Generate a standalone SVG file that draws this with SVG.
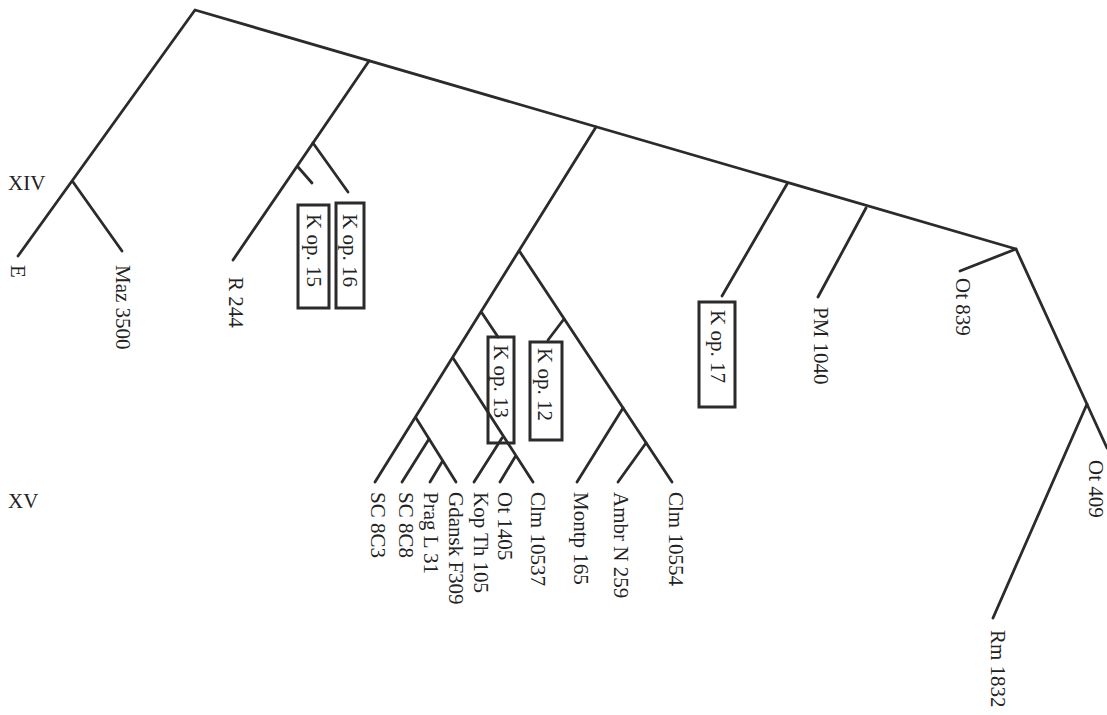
<svg xmlns="http://www.w3.org/2000/svg" width="1107" height="715" viewBox="0 0 1107 715">
<style>
.e{stroke:#2b2b2b;stroke-width:2.8;fill:none;stroke-linecap:round;stroke-linejoin:round}
.b{stroke:#2b2b2b;stroke-width:3;fill:none}
.t{font-family:"Liberation Serif","Times New Roman",serif;font-size:21px;fill:#222}
</style>
<rect width="1107" height="715" fill="#fff"/>
<g id="connectors" class="e">
<polyline points="18,256 195,10 1016,249 1107,448"/>
<line x1="73" y1="182" x2="122" y2="251"/>
<line x1="369" y1="61" x2="233" y2="260"/>
<line x1="313" y1="143" x2="348" y2="192"/>
<line x1="298" y1="167" x2="312" y2="183"/>
<line x1="596" y1="127" x2="375" y2="482"/>
<line x1="520" y1="252" x2="672" y2="482"/>
<line x1="482" y1="313" x2="498" y2="337"/>
<line x1="453" y1="358" x2="533" y2="482"/>
<line x1="502" y1="438" x2="474" y2="482"/>
<line x1="515" y1="457" x2="500" y2="482"/>
<line x1="416" y1="418" x2="456" y2="482"/>
<line x1="429" y1="439" x2="402" y2="482"/>
<line x1="442" y1="462" x2="430" y2="482"/>
<line x1="564" y1="319" x2="548" y2="340"/>
<line x1="623" y1="408" x2="577" y2="482"/>
<line x1="646" y1="443" x2="618" y2="482"/>
<line x1="787" y1="184" x2="722" y2="296"/>
<line x1="866" y1="208" x2="818" y2="297"/>
<line x1="1016" y1="249" x2="960" y2="271"/>
<line x1="1087" y1="404" x2="993" y2="618"/>
</g>
<g id="period-labels" class="t">
<text x="8" y="190">XIV</text>
<text x="8" y="508">XV</text>
</g>
<g id="n-E"><text class="t" transform="translate(11,265) rotate(90)">E</text></g>
<g id="n-Maz3500"><text class="t" transform="translate(116,265) rotate(90)">Maz 3500</text></g>
<g id="n-R244"><text class="t" transform="translate(229,277) rotate(90)">R 244</text></g>
<g id="n-Kop15"><rect class="b" x="298" y="205" width="31" height="103"/><text class="t" transform="translate(307,214) rotate(90)">K op. 15</text></g>
<g id="n-Kop16"><rect class="b" x="336" y="203" width="28" height="105"/><text class="t" transform="translate(343,214) rotate(90)">K op. 16</text></g>
<g id="n-Kop13"><rect class="b" x="488" y="337" width="26" height="106"/><text class="t" transform="translate(494,345) rotate(90)">K op. 13</text></g>
<g id="n-Kop12"><rect class="b" x="530" y="342" width="32" height="98"/><text class="t" transform="translate(538,348) rotate(90)">K op. 12</text></g>
<g id="n-SC8C3"><text class="t" transform="translate(371,492) rotate(90)">SC 8C3</text></g>
<g id="n-SC8C8"><text class="t" transform="translate(399,492) rotate(90)">SC 8C8</text></g>
<g id="n-PragL31"><text class="t" transform="translate(424,492) rotate(90)">Prag L 31</text></g>
<g id="n-GdanskF309"><text class="t" transform="translate(449,492) rotate(90)">Gdansk F309</text></g>
<g id="n-KopTh105"><text class="t" transform="translate(474,492) rotate(90)">Kop Th 105</text></g>
<g id="n-Ot1405"><text class="t" transform="translate(498,492) rotate(90)">Ot 1405</text></g>
<g id="n-Clm10537"><text class="t" transform="translate(531,492) rotate(90)">Clm 10537</text></g>
<g id="n-Montp165"><text class="t" transform="translate(574,492) rotate(90)">Montp 165</text></g>
<g id="n-AmbrN259"><text class="t" transform="translate(614,492) rotate(90)">Ambr N 259</text></g>
<g id="n-Clm10554"><text class="t" transform="translate(669,492) rotate(90)">Clm 10554</text></g>
<g id="n-Kop17"><rect class="b" x="699" y="302" width="36" height="105"/><text class="t" transform="translate(711,310) rotate(90)">K op. 17</text></g>
<g id="n-PM1040"><text class="t" transform="translate(814,307) rotate(90)">PM 1040</text></g>
<g id="n-Ot839"><text class="t" transform="translate(956,278) rotate(90)">Ot 839</text></g>
<g id="n-Ot409"><text class="t" transform="translate(1089,460) rotate(90)">Ot 409</text></g>
<g id="n-Rm1832"><text class="t" transform="translate(991,630) rotate(90)">Rm 1832</text></g>
</svg>
